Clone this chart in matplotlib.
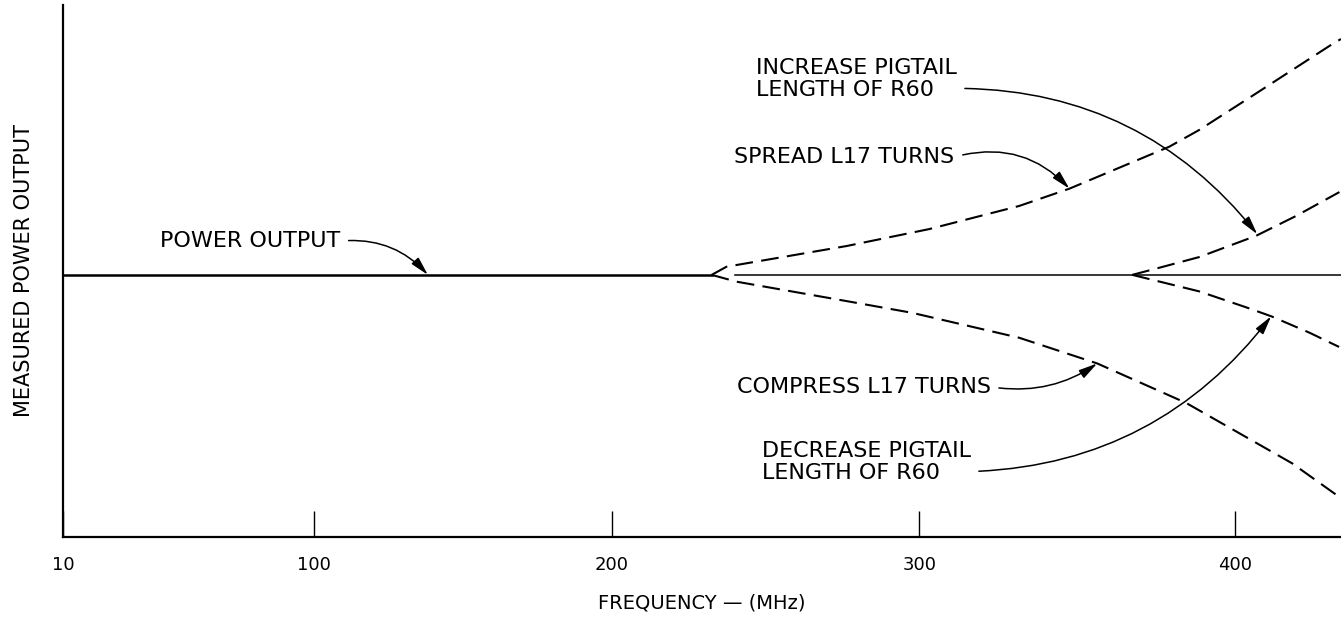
import numpy as np
import matplotlib.pyplot as plt

# frequency axis as drawn: tick values and where they sit along the page (hand-drawn, not quite linear)
TICK_MHZ = [10, 100, 200, 300, 400]
TICK_POS = [63, 314, 612, 920, 1236]
TICK_LABELS = ["10", "100", "200", "300", "400"]

# curves: frequency (MHz) and relative power (1.0 = flat output)
power_f = [10, 232.5]
power_p = [1.0, 1.0]
power2_f = [240, 433.5]
power2_p = [1.0, 1.0]

spread_f = [232.5, 237.3, 276.3, 303.2, 331.6, 347.5, 379.1, 388.6, 405.4, 431.3, 433.5]
spread_p = [1.0, 1.031, 1.110, 1.175, 1.263, 1.329, 1.489, 1.553, 1.683, 1.885, 1.90]

compress_f = [232.5, 240.6, 276.3, 297.7, 331.6, 356.3, 384.5, 418.0, 432.9]
compress_p = [1.0, 0.974, 0.900, 0.855, 0.760, 0.662, 0.511, 0.281, 0.153]

increase_f = [367.4, 375.9, 388.6, 406.6, 419.3, 433.0]
increase_p = [1.0, 1.027, 1.068, 1.149, 1.225, 1.316]

decrease_f = [367.4, 388.6, 403.5, 411.4, 423.4, 432.9]
decrease_p = [1.0, 0.937, 0.876, 0.842, 0.780, 0.725]


def fwd(x):
    x = np.asarray(x, dtype=float)
    s0 = (TICK_POS[1] - TICK_POS[0]) / (TICK_MHZ[1] - TICK_MHZ[0])
    s1 = (TICK_POS[-1] - TICK_POS[-2]) / (TICK_MHZ[-1] - TICK_MHZ[-2])
    lo = TICK_POS[0] + (x - TICK_MHZ[0]) * s0
    hi = TICK_POS[-1] + (x - TICK_MHZ[-1]) * s1
    mid = np.interp(x, TICK_MHZ, TICK_POS)
    return np.where(x < TICK_MHZ[0], lo, np.where(x > TICK_MHZ[-1], hi, mid))


def inv(p):
    p = np.asarray(p, dtype=float)
    s0 = (TICK_MHZ[1] - TICK_MHZ[0]) / (TICK_POS[1] - TICK_POS[0])
    s1 = (TICK_MHZ[-1] - TICK_MHZ[-2]) / (TICK_POS[-1] - TICK_POS[-2])
    lo = TICK_MHZ[0] + (p - TICK_POS[0]) * s0
    hi = TICK_MHZ[-1] + (p - TICK_POS[-1]) * s1
    mid = np.interp(p, TICK_POS, TICK_MHZ)
    return np.where(p < TICK_POS[0], lo, np.where(p > TICK_POS[-1], hi, mid))


plt.rcParams['font.family'] = ['DejaVu Sans']
fig = plt.figure(figsize = (13.41, 6.2), dpi = 100)
ax = fig.add_axes([0.047, 0.134, 0.953, 0.858])
ax.set_xscale('function', functions = (fwd, inv))

dash = dict(color = "black", lw = 1.5, dashes = (8.5, 4))
ax.plot(power_f, power_p, color = "black", lw = 1.8)
ax.plot(power2_f, power2_p, color = "black", lw = 1.1)
ax.plot(spread_f, spread_p, **dash)
ax.plot(compress_f, compress_p, **dash)
ax.plot(increase_f, increase_p, **dash)
ax.plot(decrease_f, decrease_p, **dash)

ax.set_xlim(10, 433.5)
ax.set_ylim(0, 2.03)

fs = 16
head = "-|>,head_length=0.8,head_width=0.2"


def arrow(rad, relpos = (1, 0.5)):
    return dict(arrowstyle = head, connectionstyle = "arc3,rad=%s" % rad, color = "black",
                lw = 1.1, shrinkA = 4, shrinkB = 0, mutation_scale = 14, relpos = relpos)


ax.annotate("POWER OUTPUT", xy = (138.3, 1.0), xytext = (44.8, 1.129), ha = "left", va = "center",
            fontsize = fs, arrowprops = arrow(-0.25))
ax.annotate("SPREAD L17 TURNS", xy = (347.5, 1.329), xytext = (239.9, 1.45), ha = "left", va = "center",
            fontsize = fs, arrowprops = arrow(-0.3))
ax.annotate("COMPRESS L17 TURNS", xy = (356.3, 0.662), xytext = (240.6, 0.573), ha = "left", va = "center",
            fontsize = fs, arrowprops = arrow(0.2))
ax.annotate("INCREASE PIGTAIL\nLENGTH OF R60", xy = (407, 1.155), xytext = (246.8, 1.748), ha = "left",
            va = "center", fontsize = fs, linespacing = 1.15, arrowprops = arrow(-0.25, (0.92, 0.27)))
ax.annotate("DECREASE PIGTAIL\nLENGTH OF R60", xy = (411.4, 0.842), xytext = (248.7, 0.286), ha = "left",
            va = "center", fontsize = fs, linespacing = 1.15, arrowprops = arrow(0.25, (0.9, 0.27)))

ax.spines["top"].set_visible(False)
ax.spines["right"].set_visible(False)
ax.spines["left"].set_linewidth(1.6)
ax.spines["bottom"].set_linewidth(1.6)
ax.set_yticks([])
ax.set_xticks(TICK_MHZ)
ax.set_xticklabels(TICK_LABELS)
ax.tick_params(axis = "x", direction = "in", length = 19, width = 1, pad = 14, labelsize = 13)

ax.set_xlabel("FREQUENCY — (MHz)", fontsize = 14, labelpad = 14)
ax.set_ylabel("MEASURED POWER OUTPUT", fontsize = 15)
ax.yaxis.set_label_coords(-0.023, 0.5)

fig.savefig("out.png", dpi = 100)
